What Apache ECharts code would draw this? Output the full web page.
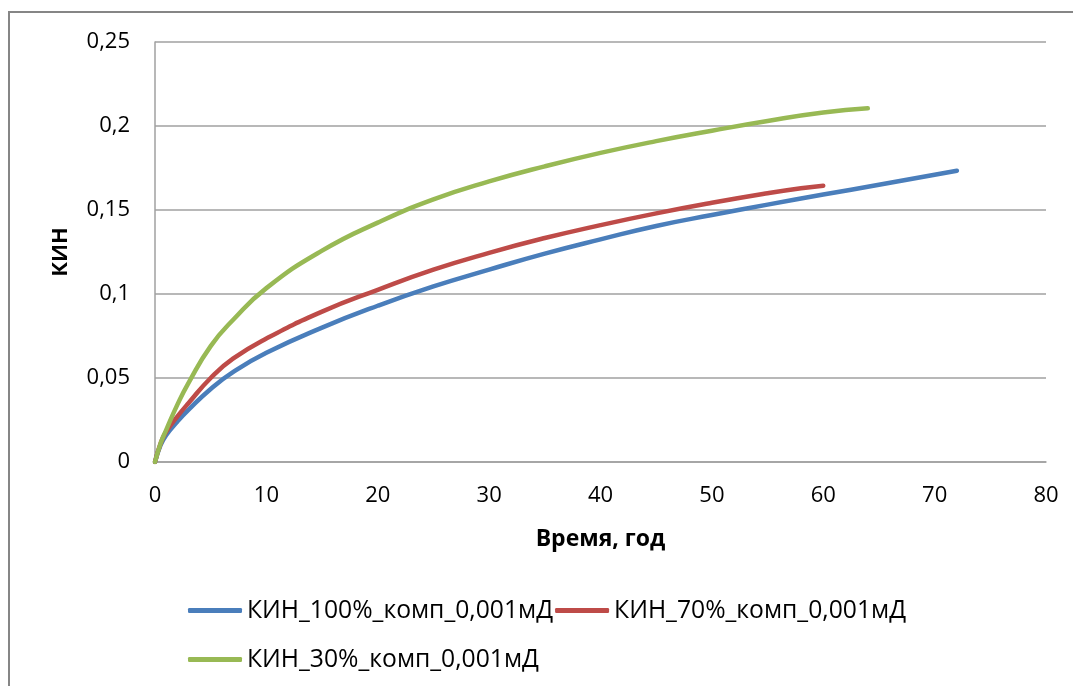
<!DOCTYPE html>
<html>
<head>
<meta charset="utf-8">
<script src="https://cdn.jsdelivr.net/npm/echarts@6/dist/echarts.min.js"></script>
<style>
html,body{margin:0;padding:0;background:#fff;overflow:hidden;}
#frame{position:absolute;left:8px;top:11px;width:1100px;height:700px;border-left:2px solid #868686;border-top:2px solid #868686;box-sizing:border-box;}
#chart{position:absolute;left:0;top:0;width:1073px;height:686px;}
</style>
</head>
<body>
<div id="frame"></div>
<div id="chart"></div>
<script>
const seriesNames = ['КИН_100%_комп_0,001мД', 'КИН_70%_комп_0,001мД', 'КИН_30%_комп_0,001мД'];
const xTicks = [0, 10, 20, 30, 40, 50, 60, 70, 80];
const yTicks = ['0', '0,05', '0,1', '0,15', '0,2', '0,25'];

const t100 = [0, 0.5, 1, 2, 3, 5, 7, 10, 15, 20, 25, 30, 35, 40, 45, 50, 55, 60, 65, 70, 72];
const k100 = [0, 0.010, 0.016, 0.024, 0.031, 0.0435, 0.0535, 0.065, 0.080, 0.093, 0.1045, 0.1145, 0.124, 0.1325, 0.1405, 0.147, 0.1532, 0.1592, 0.1650, 0.1710, 0.1734];

const t70 = [0, 0.5, 1, 2, 3, 5, 7, 10, 15, 20, 25, 30, 35, 40, 45, 50, 55, 58, 60];
const k70 = [0, 0.011, 0.018, 0.027, 0.035, 0.050, 0.0615, 0.0735, 0.0895, 0.1025, 0.1145, 0.1245, 0.1333, 0.141, 0.148, 0.1543, 0.1600, 0.1630, 0.1645];

const t30 = [0, 0.5, 1, 2, 3, 5, 7, 10, 15, 20, 25, 30, 35, 40, 45, 50, 55, 60, 64];
const k30 = [0, 0.011, 0.019, 0.034, 0.047, 0.069, 0.0845, 0.1035, 0.1258, 0.1425, 0.1563, 0.1670, 0.1760, 0.1840, 0.1910, 0.1972, 0.2030, 0.2080, 0.2105];

const colors = ['#4A7EBB', '#BE4B48', '#98B954'];
const FONT = 'Open Sans';

function pairs(t, k) { return t.map((v, i) => [v, k[i]]); }

const chart = echarts.init(document.getElementById('chart'), null, {renderer: 'canvas'});
const mkSeries = (i, t, k) => ({
  name: seriesNames[i], type: 'line', data: pairs(t, k), smooth: 0.5,
  showSymbol: false, symbol: 'none',
  lineStyle: {color: colors[i], width: 4.5, cap: 'round', join: 'round'},
  itemStyle: {color: colors[i]}
});
const legendCommon = {
  icon: 'roundRect', itemWidth: 54, itemHeight: 5, itemGap: 2,
  textStyle: {fontFamily: FONT, fontSize: 24.7, lineHeight: 24, color: '#000'},
  orient: 'horizontal', padding: 0
};
chart.setOption({
  animation: false,
  backgroundColor: 'transparent',
  grid: {left: 155, right: 27, top: 42, bottom: 224, containLabel: false},
  xAxis: {
    type: 'value', min: 0, max: 80, interval: 10,
    axisLine: {show: true, lineStyle: {color: '#a0a0a0', width: 1.5}},
    axisTick: {show: false},
    splitLine: {show: false},
    axisLabel: {fontFamily: FONT, fontSize: 22, color: '#000', margin: 23,
      formatter: v => xTicks.includes(v) ? String(v) : ''},
    name: 'Время, год', nameLocation: 'middle', nameGap: 66,
    nameTextStyle: {fontFamily: FONT, fontSize: 23, fontWeight: 'bold', color: '#000'}
  },
  yAxis: {
    type: 'value', min: 0, max: 0.25, interval: 0.05,
    axisLine: {show: true, lineStyle: {color: '#a0a0a0', width: 1.5}},
    axisTick: {show: false},
    splitLine: {show: true, lineStyle: {color: '#a0a0a0', width: 1.5}},
    axisLabel: {fontFamily: FONT, fontSize: 22, color: '#000', margin: 25,
      formatter: v => yTicks[Math.round(v / 0.05)]},
    name: 'КИН', nameLocation: 'middle', nameGap: 83, nameRotate: 90,
    nameTextStyle: {fontFamily: FONT, fontSize: 22, fontWeight: 'bold', color: '#000'}
  },
  legend: [
    Object.assign({}, legendCommon, {left: 188, top: 598, data: [seriesNames[0], seriesNames[1]]}),
    Object.assign({}, legendCommon, {left: 188, top: 647, data: [seriesNames[2]]})
  ],
  series: [mkSeries(0, t100, k100), mkSeries(1, t70, k70), mkSeries(2, t30, k30)]
});
</script>
</body>
</html>
